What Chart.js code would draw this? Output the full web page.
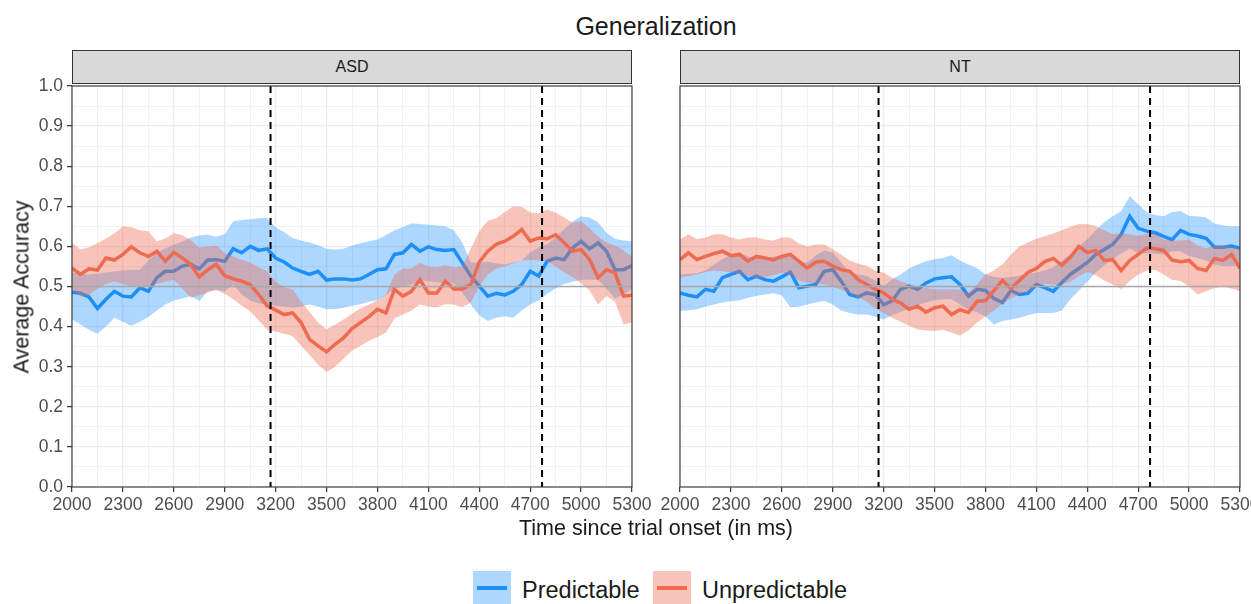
<!DOCTYPE html>
<html>
<head>
<meta charset="utf-8">
<script src="https://cdn.jsdelivr.net/npm/chart.js@4/dist/chart.umd.min.js"></script>
<style>
  html, body { margin: 0; padding: 0; background: #fff; }
  #wrap { position: relative; width: 1251px; height: 604px; overflow: hidden; background: #fff;
    font-family: 'Liberation Sans', Arial, sans-serif; color: #1a1a1a; }
  .abs { position: absolute; }
  #title { left: 72px; width: 1168px; top: 12px; text-align: center; font-size: 25px; }
  .strip { top: 50px; height: 34px; background: #d9d9d9; border: 1px solid #333; box-sizing: border-box;
    font-size: 16px; text-align: center; line-height: 32px; color: #1a1a1a; }
  #ytitle { left: 22px; top: 287px; font-size: 21.5px; white-space: nowrap;
    transform: translate(-50%, -50%) rotate(-90deg); }
  #xtitle { left: 656px; top: 528px; font-size: 21.5px; white-space: nowrap; transform: translate(-50%, -50%); }
  .key { top: 571px; width: 38px; height: 34px; }
  .key div { position: absolute; left: 4px; top: 15px; width: 30px; height: 4px; }
  .ltxt { top: 577px; font-size: 23.5px; white-space: nowrap; }
</style>
</head>
<body>
<div id="wrap">
  <div id="title" class="abs">Generalization</div>
  <div class="abs strip" style="left:72px;width:560px;">ASD</div>
  <div class="abs strip" style="left:680px;width:560px;">NT</div>
  <canvas id="ntChart" class="abs" width="620" height="450" style="left:650px;top:70px;"></canvas>
  <canvas id="asdChart" class="abs" width="662" height="450" style="left:0px;top:70px;"></canvas>
  <div id="ytitle" class="abs">Average Accuracy</div>
  <div id="xtitle" class="abs">Time since trial onset (in ms)</div>
  <div class="abs key" style="left:473px;background:rgba(30,144,255,0.36);"><div style="background:#1e8ff5;"></div></div>
  <div class="abs ltxt" style="left:522px;">Predictable</div>
  <div class="abs key" style="left:653px;background:rgba(238,106,80,0.4);"><div style="background:#ee6a50;"></div></div>
  <div class="abs ltxt" style="left:702px;">Unpredictable</div>
</div>
<script>
const times = [
  2000, 2050, 2100, 2150, 2200, 2250, 2300, 2350, 2400, 2450,
  2500, 2550, 2600, 2650, 2700, 2750, 2800, 2850, 2900, 2950,
  3000, 3050, 3100, 3150, 3200, 3250, 3300, 3350, 3400, 3450,
  3500, 3550, 3600, 3650, 3700, 3750, 3800, 3850, 3900, 3950,
  4000, 4050, 4100, 4150, 4200, 4250, 4300, 4350, 4400, 4450,
  4500, 4550, 4600, 4650, 4700, 4750, 4800, 4850, 4900, 4950,
  5000, 5050, 5100, 5150, 5200, 5250, 5300
];

// ASD panel
const asdPred = [
  .486, .483, .474, .445, .468, .488, .476, .474, .497, .488,
  .522, .538, .538, .551, .555, .544, .566, .567, .563, .594,
  .584, .600, .590, .594, .571, .561, .546, .538, .530, .538,
  .516, .519, .519, .516, .519, .530, .542, .544, .580, .584,
  .605, .588, .599, .592, .590, .592, .559, .526, .501, .476,
  .483, .479, .488, .505, .538, .526, .563, .571, .567, .596,
  .613, .594, .609, .588, .542, .542, .552
];
const asdPredHi = [
  .534, .532, .530, .532, .535, .538, .540, .541, .542, .565,
  .585, .595, .604, .612, .622, .627, .629, .624, .630, .663,
  .666, .668, .670, .671, .648, .635, .621, .615, .610, .603,
  .594, .592, .594, .602, .608, .613, .617, .628, .640, .648,
  .658, .656, .654, .652, .650, .640, .610, .560, .560, .562,
  .558, .555, .560, .565, .585, .597, .605, .623, .642, .662,
  .675, .672, .660, .634, .619, .615, .613
];
const asdPredLo = [
  .418, .405, .392, .382, .400, .422, .412, .402, .412, .424,
  .440, .455, .465, .470, .476, .464, .488, .492, .488, .505,
  .480, .465, .458, .455, .452, .450, .447, .450, .455, .450,
  .443, .443, .447, .452, .456, .462, .466, .478, .494, .500,
  .505, .515, .514, .510, .509, .508, .485, .455, .428, .414,
  .422, .426, .422, .440, .455, .466, .482, .495, .506, .512,
  .517, .517, .517, .495, .470, .480, .493
];
const asdUnpred = [
  .546, .530, .544, .541, .571, .566, .580, .599, .584, .575,
  .588, .563, .585, .571, .555, .524, .542, .555, .527, .519,
  .513, .505, .480, .451, .441, .430, .434, .410, .368, .352,
  .337, .356, .372, .395, .410, .425, .443, .434, .493, .476,
  .488, .517, .484, .484, .513, .494, .494, .505, .561, .588,
  .605, .613, .625, .642, .613, .621, .619, .629, .609, .588,
  .592, .567, .522, .542, .534, .476, .478
];
const asdUnpredHi = [
  .609, .592, .598, .608, .620, .632, .650, .648, .640, .638,
  .612, .620, .633, .628, .616, .597, .600, .602, .583, .575,
  .567, .560, .548, .538, .512, .498, .493, .462, .437, .410,
  .393, .405, .418, .432, .445, .455, .465, .480, .530, .545,
  .545, .559, .550, .548, .553, .548, .550, .595, .638, .664,
  .670, .685, .700, .698, .685, .682, .692, .684, .672, .659,
  .663, .645, .625, .610, .602, .590, .575
];
const asdUnpredLo = [
  .493, .475, .478, .495, .506, .512, .506, .500, .498, .500,
  .506, .512, .516, .495, .472, .478, .485, .491, .482, .468,
  .452, .438, .415, .393, .388, .382, .376, .352, .330, .305,
  .287, .300, .320, .340, .352, .365, .374, .385, .420, .430,
  .440, .455, .450, .448, .456, .455, .448, .460, .500, .530,
  .545, .550, .558, .565, .566, .565, .563, .550, .535, .524,
  .508, .490, .455, .476, .462, .405, .410
];

// NT panel
const ntPred = [
  .484, .478, .474, .493, .488, .522, .530, .538, .517, .526,
  .517, .513, .524, .536, .497, .501, .505, .538, .542, .513,
  .480, .474, .484, .480, .455, .464, .493, .501, .493, .509,
  .519, .522, .524, .505, .476, .493, .490, .470, .460, .490,
  .480, .483, .505, .497, .488, .510, .530, .545, .560, .580,
  .592, .605, .630, .675, .645, .638, .634, .625, .617, .640,
  .630, .626, .620, .598, .598, .601, .595
];
const ntPredHi = [
  .530, .532, .533, .540, .555, .568, .580, .585, .575, .572,
  .572, .575, .578, .580, .560, .560, .578, .590, .585, .560,
  .534, .530, .527, .515, .501, .518, .530, .545, .555, .563,
  .568, .571, .578, .565, .555, .546, .530, .524, .522, .524,
  .527, .531, .535, .540, .548, .565, .580, .600, .618, .640,
  .660, .675, .688, .725, .705, .685, .678, .675, .686, .688,
  .676, .675, .672, .657, .652, .650, .650
];
const ntPredLo = [
  .439, .441, .443, .450, .455, .460, .463, .466, .472, .476,
  .480, .483, .478, .448, .450, .455, .460, .464, .455, .440,
  .434, .430, .430, .425, .418, .428, .437, .445, .453, .460,
  .466, .468, .468, .455, .442, .436, .425, .405, .414, .418,
  .422, .428, .434, .434, .434, .440, .468, .490, .512, .535,
  .553, .568, .582, .595, .583, .583, .582, .580, .588, .588,
  .576, .571, .565, .555, .551, .551, .551
];
const ntUnpred = [
  .567, .584, .567, .575, .582, .588, .577, .580, .563, .575,
  .571, .566, .575, .580, .563, .546, .561, .563, .551, .542,
  .538, .517, .505, .494, .484, .468, .459, .443, .451, .436,
  .447, .451, .430, .442, .435, .463, .465, .490, .515, .495,
  .515, .535, .545, .562, .570, .553, .573, .600, .585, .590,
  .565, .567, .540, .565, .580, .596, .594, .590, .566, .562,
  .565, .545, .540, .570, .565, .580, .545
];
const ntUnpredHi = [
  .617, .630, .618, .622, .630, .630, .622, .617, .622, .623,
  .617, .615, .622, .622, .607, .600, .605, .605, .593, .580,
  .565, .557, .552, .540, .534, .522, .513, .505, .500, .496,
  .493, .493, .493, .492, .485, .505, .530, .540, .555, .580,
  .600, .610, .619, .626, .632, .640, .649, .655, .656, .651,
  .640, .630, .633, .630, .626, .631, .630, .617, .615, .615,
  .617, .602, .595, .602, .602, .598, .596
];
const ntUnpredLo = [
  .522, .526, .530, .536, .540, .538, .535, .532, .526, .522,
  .523, .528, .534, .530, .515, .509, .509, .505, .500, .492,
  .484, .473, .462, .445, .434, .422, .412, .402, .393, .390,
  .389, .392, .385, .378, .390, .410, .425, .440, .457, .470,
  .480, .488, .497, .506, .505, .505, .512, .525, .537, .528,
  .515, .505, .493, .514, .530, .539, .542, .530, .517, .514,
  .500, .480, .488, .496, .500, .495, .488
];

const markerTimes = [3170, 4770];
const chanceLevel = 0.5;

const predColor = '#1e8ff5';
const predFill = 'rgba(30,144,255,0.36)';
const unpredColor = '#ee6a50';
const unpredFill = 'rgba(238,106,80,0.4)';

Chart.defaults.font.family = "'Liberation Sans', Arial, sans-serif";

function pts(arr) {
  return times.map((t, i) => ({ x: t, y: arr[i] }));
}

const isMajorX = v => Math.round(v - 2000) % 300 === 0;
const isMajorY = v => Math.round(v * 100) % 10 === 0;

const panelDeco = {
  id: 'panelDeco',
  afterDatasetsDraw(chart) {
    const { ctx, chartArea: a, scales } = chart;
    ctx.save();
    // chance line
    const y5 = scales.y.getPixelForValue(chanceLevel);
    ctx.strokeStyle = '#a9a9a9';
    ctx.lineWidth = 1.5;
    ctx.beginPath();
    ctx.moveTo(a.left, y5);
    ctx.lineTo(a.right, y5);
    ctx.stroke();
    // dashed markers
    ctx.strokeStyle = '#000';
    ctx.lineWidth = 2;
    ctx.setLineDash([7, 5]);
    markerTimes.forEach(t => {
      const x = scales.x.getPixelForValue(t);
      ctx.beginPath();
      ctx.moveTo(x, a.top);
      ctx.lineTo(x, a.bottom);
      ctx.stroke();
    });
    ctx.setLineDash([]);
    // panel border
    ctx.strokeStyle = '#333';
    ctx.lineWidth = 1.1;
    ctx.strokeRect(a.left, a.top, a.right - a.left, a.bottom - a.top);
    ctx.restore();
  }
};

function makePanel(id, pred, predLo, predHi, unpred, unpredLo, unpredHi, showY, rightPad) {
  const ribbon = (data, bg, order, fill) => ({
    data: pts(data), borderWidth: 0, borderColor: 'transparent', backgroundColor: bg,
    pointRadius: 0, fill: fill, order: order
  });
  return new Chart(document.getElementById(id), {
    type: 'line',
    data: {
      datasets: [
        { data: pts(unpred), borderColor: unpredColor, borderWidth: 3.5, pointRadius: 0, fill: false, order: 1 },
        ribbon(unpredHi, unpredFill, 2, '+1'),
        ribbon(unpredLo, unpredFill, 2, false),
        { data: pts(pred), borderColor: predColor, borderWidth: 3.5, pointRadius: 0, fill: false, order: 3 },
        ribbon(predHi, predFill, 4, '+1'),
        ribbon(predLo, predFill, 4, false)
      ]
    },
    options: {
      responsive: false,
      animation: false,
      layout: { padding: { top: 16, right: rightPad, bottom: 0, left: 0 } },
      plugins: { legend: { display: false }, tooltip: { enabled: false } },
      scales: {
        x: {
          type: 'linear', min: 2000, max: 5300,
          afterFit(s) { s.height = 33; },
          border: { display: false },
          ticks: {
            stepSize: 150, autoSkip: false, maxRotation: 0, color: '#4d4d4d',
            font: { size: 17.5 }, padding: 3,
            callback: v => (isMajorX(v) ? String(v) : '')
          },
          grid: {
            color: '#ebebeb',
            lineWidth: c => (c.tick && isMajorX(c.tick.value) ? 1.3 : 0.7),
            tickLength: 5,
            tickWidth: 1.2,
            tickColor: c => (c.tick && isMajorX(c.tick.value) ? '#333' : 'rgba(0,0,0,0)')
          }
        },
        y: {
          type: 'linear', min: 0, max: 1,
          afterFit(s) { s.width = showY ? 72 : 30; },
          border: { display: false },
          ticks: {
            stepSize: 0.05, autoSkip: false, display: showY, color: '#4d4d4d',
            font: { size: 17.5 }, padding: 4,
            callback: v => (isMajorY(v) ? (Math.round(v * 10) / 10).toFixed(1) : '')
          },
          grid: {
            color: '#ebebeb',
            lineWidth: c => (c.tick && isMajorY(c.tick.value) ? 1.3 : 0.7),
            drawTicks: showY,
            tickLength: showY ? 5 : 0,
            tickWidth: 1.2,
            tickColor: c => (c.tick && isMajorY(c.tick.value) ? '#333' : 'rgba(0,0,0,0)')
          }
        }
      }
    },
    plugins: [panelDeco]
  });
}

makePanel('asdChart', asdPred, asdPredLo, asdPredHi, asdUnpred, asdUnpredLo, asdUnpredHi, true, 30);
makePanel('ntChart', ntPred, ntPredLo, ntPredHi, ntUnpred, ntUnpredLo, ntUnpredHi, false, 30);
</script>
</body>
</html>
